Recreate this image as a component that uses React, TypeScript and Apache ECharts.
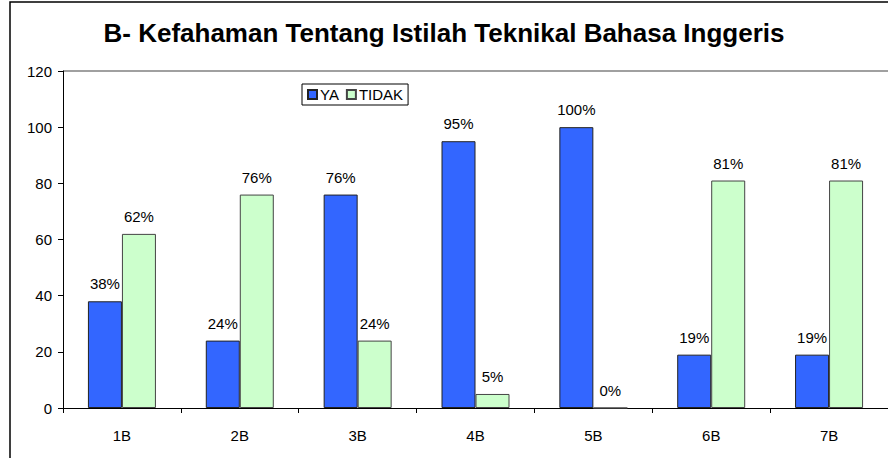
import React, { useEffect, useRef } from "react";
import * as echarts from "echarts";

const categories = ["1B", "2B", "3B", "4B", "5B", "6B", "7B"];
const yaValues = [38, 24, 76, 95, 100, 19, 19];
const tidakValues = [62, 76, 24, 5, 0, 81, 81];
const seriesNames = ["YA", "TIDAK"];
const titleText = "B- Kefahaman Tentang Istilah Teknikal Bahasa Inggeris";

export default function App() {
  const ref = useRef<HTMLDivElement>(null);
  useEffect(() => {
    if (!ref.current) return;
    const chart = echarts.init(ref.current, null, { renderer: "svg" });
    const font = "Arial, 'Liberation Sans', sans-serif";
    const labelCfg = {
      show: true,
      position: "top",
      distance: 10,
      formatter: "{c}%",
      fontSize: 15,
      color: "#000",
      fontFamily: font,
    };
    chart.setOption({
      animation: false,
      backgroundColor: "#ffffff",
      textStyle: { fontFamily: font },
      title: {
        text: titleText,
        left: "center",
        top: 15,
        textStyle: { fontSize: 26, fontWeight: "bold", color: "#000", fontFamily: font },
      },
      graphic: [
        {
          type: "rect",
          shape: { x: 10, y: 2, width: 900, height: 500 },
          style: { fill: "none", stroke: "#000", lineWidth: 1.5 },
          silent: true,
          z: 100,
        },
        {
          type: "line",
          shape: { x1: 63, y1: 71, x2: 890, y2: 71 },
          style: { stroke: "#808080", lineWidth: 1.5 },
          silent: true,
        },
      ],
      legend: {
        left: 302,
        top: 84,
        orient: "horizontal",
        data: seriesNames,
        icon: "rect",
        itemWidth: 9,
        itemHeight: 9,
        itemGap: 7,
        padding: [3, 5, 3, 5],
        borderColor: "#000",
        borderWidth: 1,
        textStyle: { fontSize: 15, color: "#000", fontFamily: font, padding: [0, 0, 0, -2] },
      },
      grid: { left: 63, top: 71, width: 826, bottom: 50, containLabel: false },
      xAxis: {
        type: "category",
        data: categories,
        axisLine: { lineStyle: { color: "#000", width: 1 } },
        axisTick: { show: true, length: 5, lineStyle: { color: "#000" } },
        axisLabel: { fontSize: 15, color: "#000", margin: 20, fontFamily: font },
      },
      yAxis: {
        type: "value",
        min: 0,
        max: 120,
        interval: 20,
        axisLine: { show: true, lineStyle: { color: "#000", width: 1 } },
        axisTick: { show: true, length: 5, lineStyle: { color: "#000" } },
        axisLabel: { fontSize: 15, color: "#000", margin: 11, fontFamily: font },
        splitLine: { show: false },
      },
      series: [
        {
          name: seriesNames[0],
          type: "bar",
          data: yaValues,
          barWidth: 34,
          barGap: "0%",
          itemStyle: { color: "#3366FF", borderColor: "#222", borderWidth: 1 },
          label: labelCfg,
        },
        {
          name: seriesNames[1],
          type: "bar",
          data: tidakValues,
          barWidth: 34,
          itemStyle: { color: "#CCFFCC", borderColor: "#444", borderWidth: 1 },
          label: labelCfg,
        },
      ],
    });
    return () => chart.dispose();
  }, []);
  return (
    <div
      ref={ref}
      style={{ position: "fixed", left: 0, top: 0, width: 888, height: 458 }}
    />
  );
}
